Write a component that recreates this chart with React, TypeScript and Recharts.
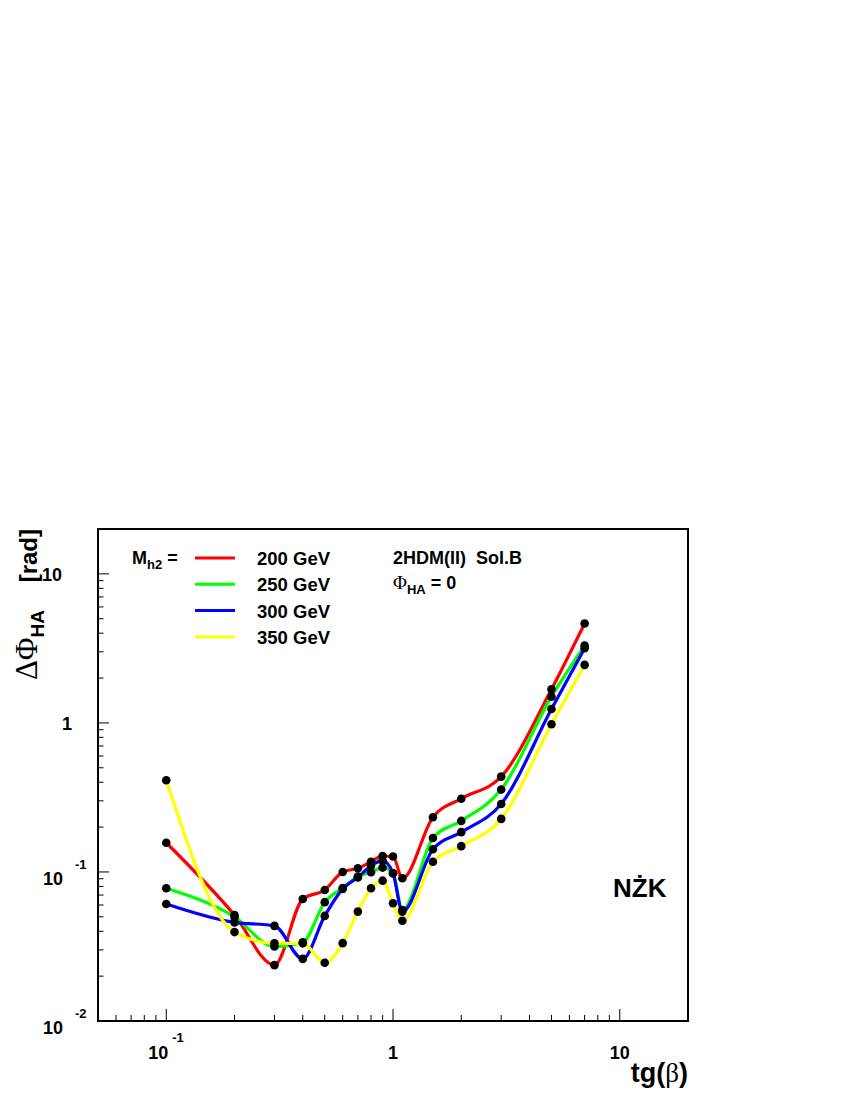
import React from 'react';
import { ComposedChart, Line, Scatter, XAxis, YAxis, ReferenceArea } from 'recharts';

const tgb = [0.1, 0.2, 0.3, 0.4, 0.5, 0.6, 0.7, 0.8, 0.9, 1.0, 1.1, 1.5, 2, 3, 5, 7];
const m200 = [0.157, 0.0514, 0.0237, 0.0659, 0.0757, 0.1, 0.106, 0.117, 0.128, 0.127, 0.0907, 0.233, 0.31, 0.436, 1.68, 4.64];
const m250 = [0.0777, 0.0499, 0.0316, 0.0337, 0.0627, 0.078, 0.093, 0.0995, 0.107, 0.098, 0.0556, 0.169, 0.22, 0.357, 1.5, 3.3];
const m300 = [0.061, 0.0459, 0.0435, 0.0261, 0.0507, 0.077, 0.092, 0.11, 0.119, 0.098, 0.0542, 0.142, 0.185, 0.286, 1.24, 3.17];
const m350 = [0.412, 0.0395, 0.0332, 0.0332, 0.0246, 0.0333, 0.0542, 0.0778, 0.0874, 0.0616, 0.0471, 0.117, 0.149, 0.227, 0.98, 2.45];

const seriesNames = ['200 GeV', '250 GeV', '300 GeV', '350 GeV'];
const seriesKeys = ['m200', 'm250', 'm300', 'm350'];
const seriesColors = ['#ff0000', '#00ff00', '#0000ff', '#ffff00'];

const xTicks = [0.06, 0.07, 0.08, 0.09, 0.1, 0.2, 0.3, 0.4, 0.5, 0.6, 0.7, 0.8, 0.9, 1, 2, 3, 4, 5, 6, 7, 8, 9, 10];
const yTicks = [0.01, 0.02, 0.03, 0.04, 0.05, 0.06, 0.07, 0.08, 0.09, 0.1, 0.2, 0.3, 0.4, 0.5, 0.6, 0.7, 0.8, 0.9, 1, 2, 3, 4, 5, 6, 7, 8, 9, 10];

const data = tgb.map((x, i) => ({ x, m200: m200[i], m250: m250[i], m300: m300[i], m350: m350[i] }));

const FONT = '"Liberation Sans", Arial, Helvetica, sans-serif';
const GREEK = '"Liberation Serif", "DejaVu Serif", serif';

const isMajor = (v: number) => Math.abs(Math.log10(v) - Math.round(Math.log10(v))) < 1e-6;

function XTick(props: any) {
  const { x, y, payload } = props;
  const v = payload.value;
  const major = isMajor(v);
  let label = null;
  if (major) {
    if (v < 0.5) {
      label = (
        <>
          <text x={x + 2} y={y + 38} fontSize={18} textAnchor="end">10</text>
          <text x={x + 6} y={y + 21} fontSize={13}>-1</text>
        </>
      );
    } else {
      label = (
        <text x={x} y={y + 38} fontSize={18} textAnchor="middle">
          {v === 1 ? '1' : '10'}
        </text>
      );
    }
  }
  return (
    <g fontFamily={FONT} fontWeight="bold" fill="#000">
      <line x1={x} x2={x} y1={y} y2={y - (major ? 12 : 6)} stroke="#000" strokeWidth={1} />
      {label}
    </g>
  );
}

function YTick(props: any) {
  const { x, y, payload } = props;
  const v = payload.value;
  const major = isMajor(v);
  let label = null;
  if (major) {
    if (v === 10) {
      label = <text x={x - 36} y={y + 7} fontSize={18} textAnchor="end">10</text>;
    } else if (v === 1) {
      label = <text x={x - 26} y={y + 7} fontSize={18} textAnchor="end">1</text>;
    } else {
      label = (
        <>
          <text x={x - 35} y={y + 13} fontSize={18} textAnchor="end">10</text>
          <text x={x - 23} y={y - 3} fontSize={13}>{v < 0.05 ? '-2' : '-1'}</text>
        </>
      );
    }
  }
  return (
    <g fontFamily={FONT} fontWeight="bold" fill="#000">
      <line x1={x} x2={x + (major ? 11 : 5.5)} y1={y} y2={y} stroke="#000" strokeWidth={1} />
      {label}
    </g>
  );
}

const Dot = (props: any) => <circle cx={props.cx} cy={props.cy} r={4.3} fill="#000" />;

export default function App() {
  return (
    <div style={{ position: 'absolute', left: 0, top: 0, width: 850, height: 1100, background: '#fff' }}>
      <ComposedChart
        width={850}
        height={1100}
        data={data}
        margin={{ top: 529, right: 162, bottom: 19, left: 0 }}
      >
        <XAxis
          dataKey="x"
          type="number"
          scale="log"
          domain={[0.05, 20]}
          allowDataOverflow
          ticks={xTicks}
          interval={0}
          height={60}
          tickSize={0}
          tickMargin={0}
          axisLine={false}
          tickLine={false}
          tick={XTick}
        />
        <YAxis
          type="number"
          scale="log"
          domain={[0.01, 20]}
          allowDataOverflow
          ticks={yTicks}
          interval={0}
          width={98}
          tickSize={0}
          tickMargin={0}
          axisLine={false}
          tickLine={false}
          tick={YTick}
        />
        <ReferenceArea x1={0.05} x2={20} y1={0.01} y2={20} fill="none" stroke="#000" strokeWidth={2} ifOverflow="visible" />
        {seriesKeys.map((k, i) => (
          <Line
            key={k}
            dataKey={k}
            type="monotoneX"
            stroke={seriesColors[i]}
            strokeWidth={3.2}
            dot={false}
            isAnimationActive={false}
          />
        ))}
        {seriesKeys.map((k) => (
          <Scatter key={'s' + k} dataKey={k} shape={Dot} isAnimationActive={false} />
        ))}
      </ComposedChart>
      <svg width={850} height={1100} style={{ position: 'absolute', left: 0, top: 0, pointerEvents: 'none' }}>
        <g fontFamily={FONT} fontWeight="bold" fill="#000">
          <text x={132} y={564} fontSize={18}>
            M<tspan fontSize={13} dy={5}>h2</tspan>
            <tspan dy={-5} dx={5}>=</tspan>
          </text>
          {seriesNames.map((n, i) => (
            <g key={n}>
              <line x1={195} x2={235} y1={558 + i * 26.3} y2={558 + i * 26.3} stroke={seriesColors[i]} strokeWidth={3} />
              <text x={257} y={565 + i * 26.3} fontSize={18.5}>{n}</text>
            </g>
          ))}
          <text x={393} y={564} fontSize={18}>2HDM(II)&#160;&#160;Sol.B</text>
          <text x={393} y={589} fontSize={18}>
            <tspan fontFamily={GREEK} fontWeight="normal" fontSize={19}>Φ</tspan>
            <tspan fontSize={13} dy={5}>HA</tspan>
            <tspan dy={-5}> = 0</tspan>
          </text>
          <text x={613} y={897} fontSize={26}>NŻK</text>
          <text x={688} y={1082} fontSize={27} textAnchor="end">
            tg(<tspan fontFamily={GREEK} fontWeight="normal">β</tspan>)
          </text>
          <text transform="translate(37,529) rotate(-90)" fontSize={24} textAnchor="end">[rad]</text>
          <text transform="translate(37,610) rotate(-90)" fontSize={24} textAnchor="end">
            <tspan fontFamily={GREEK} fontWeight="normal" fontSize={31}>ΔΦ</tspan>
            <tspan fontSize={19} dy={7}>HA</tspan>
          </text>
        </g>
      </svg>
    </div>
  );
}
